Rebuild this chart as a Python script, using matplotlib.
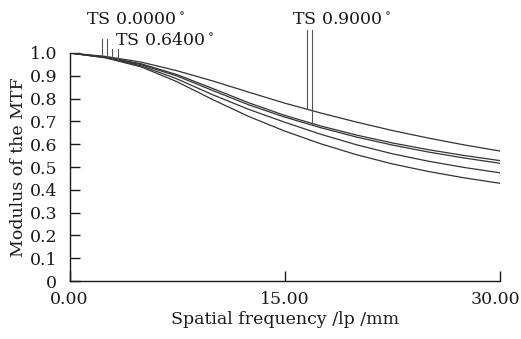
import matplotlib
matplotlib.use("Agg")
import matplotlib.pyplot as plt
import matplotlib.transforms as mtransforms
import numpy as np

plt.rcParams['font.family'] = ['DejaVu Serif']
plt.rcParams['mathtext.fontset'] = 'dejavuserif'

freq = [0, 2.5, 5, 7.5, 10, 12.5, 15, 17.5, 20, 22.5, 25, 27.5, 30]
mtf_a = [1.0, 0.985, 0.960, 0.922, 0.877, 0.828, 0.780, 0.737, 0.697, 0.660, 0.627, 0.597, 0.570]
mtf_b = [1.0, 0.9825, 0.9525, 0.905, 0.8438, 0.7813, 0.7263, 0.680, 0.640, 0.6055, 0.576, 0.5505, 0.528]
mtf_c = [1.0, 0.9813, 0.9488, 0.8988, 0.835, 0.7725, 0.7188, 0.6725, 0.6313, 0.5963, 0.5658, 0.5395, 0.5163]
mtf_d = [1.0, 0.980, 0.9438, 0.8863, 0.8163, 0.7525, 0.6963, 0.6438, 0.5975, 0.558, 0.5255, 0.498, 0.4745]
mtf_e = [1.0, 0.9788, 0.9388, 0.8738, 0.795, 0.7213, 0.6575, 0.602, 0.554, 0.5135, 0.4805, 0.4525, 0.4285]

labels = ["TS 0.0000", "TS 0.6400", "TS 0.9000"]
marker_x = [[2.24, 2.59], [2.98, 3.38], [16.53, 16.92]]
marker_top = [1.061, 1.018, 1.101]
label_pos = [(1.15, 1.123), (3.17, 1.035), (15.48, 1.123)]

xticks = [0, 15, 30]
xtick_labels = ["0.00", "15.00", "30.00"]
yticks = [0, 0.1, 0.2, 0.3, 0.4, 0.5, 0.6, 0.7, 0.8, 0.9, 1.0]
ytick_labels = ["0", "0.1", "0.2", "0.3", "0.4", "0.5", "0.6", "0.7", "0.8", "0.9", "1.0"]

fig = plt.figure(figsize=(5.21, 3.39), dpi=100)
ax = fig.add_axes([0.1334, 0.171, 0.8263, 0.6727])

series = [mtf_a, mtf_b, mtf_c, mtf_d, mtf_e]
for s in series:
    ax.plot(freq, s, color='#333333', lw=0.9)

curve_for = [[mtf_a, mtf_b], [mtf_c, mtf_e], [mtf_a, mtf_b]]
for i in range(3):
    for j, xm in enumerate(marker_x[i]):
        yb = np.interp(xm, freq, curve_for[i][j])
        ax.plot([xm, xm], [yb, marker_top[i]], color='#555555', lw=0.8, clip_on=False)
    ax.text(label_pos[i][0], label_pos[i][1], labels[i] + r"$\,^{\circ}$",
            fontsize=12.5, ha='left', va='baseline', color='#1a1a1a')

ax.set_xlim(0, 30)
ax.set_ylim(0, 1.0)
ax.set_xticks(xticks)
ax.set_xticklabels(xtick_labels)
ax.set_yticks(yticks)
ax.set_yticklabels(ytick_labels)
ax.tick_params(direction='in', length=7, width=1.0, labelsize=12.5, colors='#1a1a1a')
ax.tick_params(axis='x', pad=7)
ax.tick_params(axis='y', pad=9)
ax.spines['top'].set_visible(False)
ax.spines['right'].set_visible(False)
for sp in ['left', 'bottom']:
    ax.spines[sp].set_linewidth(1.0)
    ax.spines[sp].set_color('#1a1a1a')

# nudge last x tick label left so it stays inside the figure
last = ax.get_xticklabels()[-1]
last.set_transform(last.get_transform() + mtransforms.ScaledTranslation(-5 / 100, 0, fig.dpi_scale_trans))

ax.set_xlabel("Spatial frequency /lp /mm", fontsize=12.5, labelpad=2, color='#1a1a1a')
ax.set_ylabel("Modulus of the MTF", fontsize=12.5, labelpad=2, color='#1a1a1a')

fig.savefig("out.png", dpi=100)
